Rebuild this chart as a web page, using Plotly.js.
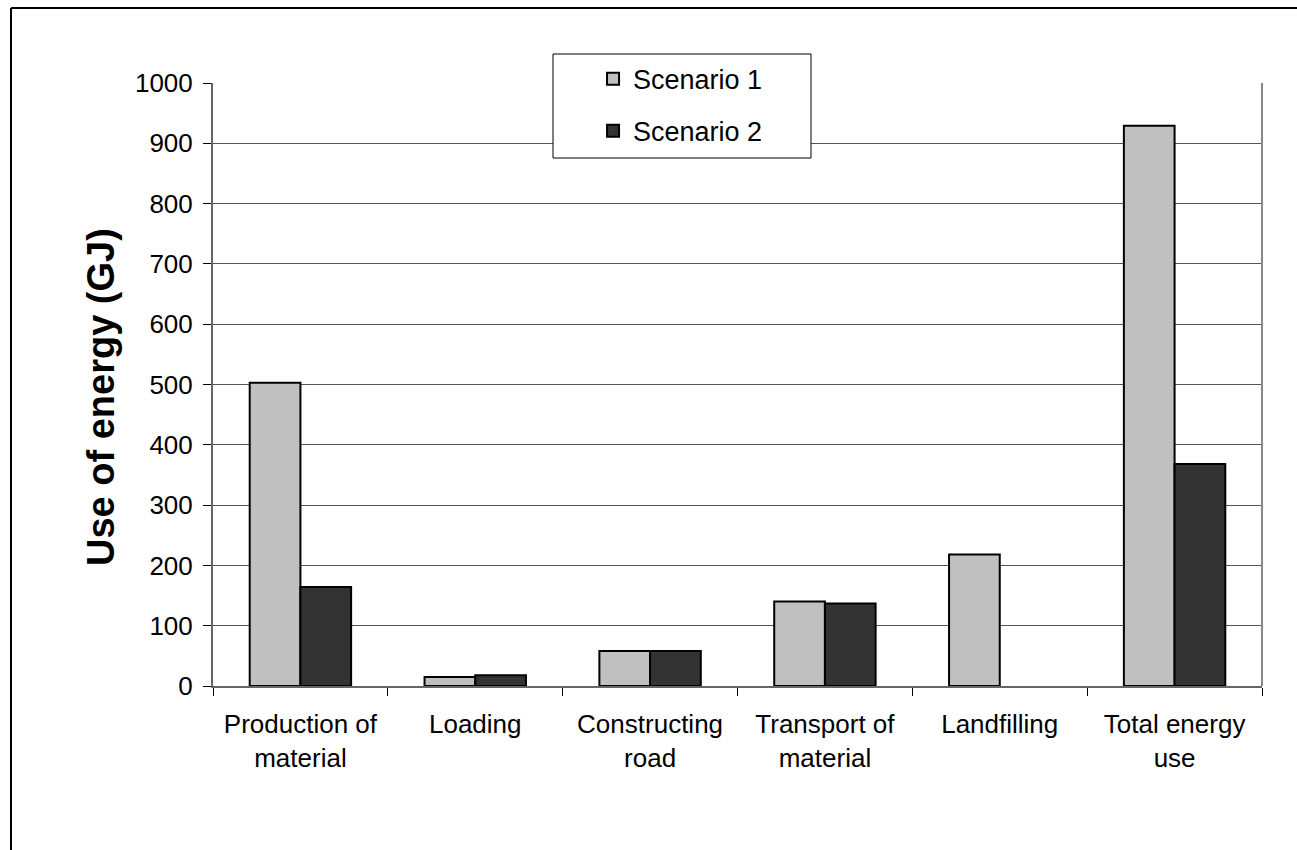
<!DOCTYPE html>
<html>
<head>
<meta charset="utf-8">
<script src="https://cdn.plot.ly/plotly-3.0.1.min.js"></script>
<style>
  html, body { margin: 0; padding: 0; background: #fff; }
  #chart { width: 1297px; height: 850px; }
</style>
</head>
<body>
<div id="chart"></div>
<script>
const categories = [
  "Production of<br>material",
  "Loading",
  "Constructing<br>road",
  "Transport of<br>material",
  "Landfilling",
  "Total energy<br>use"
];
const scenario1 = [503, 15, 58, 140, 218, 929];
const scenario2 = [164, 18, 58, 137, null, 368];
const seriesNames = ["Scenario 1", "Scenario 2"];
const yTickValues = [0, 100, 200, 300, 400, 500, 600, 700, 800, 900, 1000];
const yTitle = "Use of energy (GJ)";

const FONT = "Arial, 'Liberation Sans', sans-serif";

const traces = [
  {
    type: "bar", name: seriesNames[0], x: categories, y: scenario1,
    marker: { color: "#C0C0C0", line: { color: "#000", width: 2 } },
    legendgroup: "a"
  },
  {
    type: "bar", name: seriesNames[1], x: categories, y: scenario2,
    marker: { color: "#333333", line: { color: "#000", width: 2 } },
    legendgroup: "b"
  }
];

const layout = {
  width: 1297, height: 850,
  margin: { l: 213, r: 35, t: 83, b: 164, pad: 0 },
  paper_bgcolor: "#fff", plot_bgcolor: "#fff",
  font: { family: FONT, size: 26, color: "#000" },
  barmode: "group", bargap: 0.42, bargroupgap: 0,
  showlegend: true,
  legend: {
    x: 0.3623, y: 1.047, xanchor: "left", yanchor: "top",
    bgcolor: "rgba(0,0,0,0)", borderwidth: 0,
    font: { family: FONT, size: 27, color: "#000" },
    tracegroupgap: 14, traceorder: "grouped"
  },
  xaxis: {
    type: "category",
    tickson: "boundaries",
    ticks: "outside", ticklen: 8, tickcolor: "#000", tickwidth: 1,
    ticklabelstandoff: 14,
    showline: true, linecolor: "#666", linewidth: 2,
    showgrid: false, zeroline: false,
    tickfont: { family: FONT, size: 26, color: "#000" },
    fixedrange: true
  },
  yaxis: {
    range: [0, 1000], tickvals: yTickValues, ticktext: yTickValues.map(String),
    ticks: "outside", ticklen: 8, tickcolor: "#000", tickwidth: 1,
    ticklabelstandoff: 5,
    showline: true, linecolor: "#666", linewidth: 2,
    showgrid: true, gridcolor: "#555", gridwidth: 1,
    zeroline: false,
    tickfont: { family: FONT, size: 26, color: "#000" },
    automargin: false,
    fixedrange: true
  },
  annotations: [
    { xref: "paper", yref: "paper", x: (101 - 213) / 1049, y: (686 - 397) / 603,
      xanchor: "center", yanchor: "middle", showarrow: false, textangle: -90,
      text: yTitle, font: { family: FONT, size: 38, color: "#000", weight: "bold" } }
  ],
  shapes: [
    { type: "line", xref: "paper", yref: "paper", x0: 1, x1: 1, y0: 0, y1: 1, line: { color: "#888", width: 2 }, layer: "above" },
    { type: "rect", xref: "paper", yref: "paper",
      x0: (553 - 213) / 1049, x1: (811 - 213) / 1049,
      y0: 1 - (158 - 83) / 603, y1: 1 + (83 - 54) / 603,
      fillcolor: "#fff", line: { color: "#000", width: 1 }, layer: "above" },
    { type: "line", xref: "paper", yref: "paper", x0: (11 - 213) / 1049, x1: (11 - 213) / 1049,
      y0: -0.4, y1: 1 + (83 - 8) / 603, line: { color: "#000", width: 2 } },
    { type: "line", xref: "paper", yref: "paper", x0: (11 - 213) / 1049, x1: 1.1,
      y0: 1 + (83 - 8) / 603, y1: 1 + (83 - 8) / 603, line: { color: "#000", width: 2 } }
  ]
};

Plotly.newPlot("chart", traces, layout, { displayModeBar: false, staticPlot: true });
</script>
</body>
</html>
